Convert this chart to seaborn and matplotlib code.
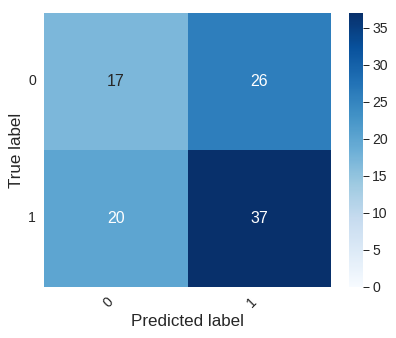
import numpy as np
import pandas as pd
import matplotlib
matplotlib.use("Agg")
import matplotlib.pyplot as plt
import seaborn as sns

# confusion matrix counts
labels = ['0', '1']
row_true0 = [17, 26]
row_true1 = [20, 37]

cm = pd.DataFrame([row_true0, row_true1], index=labels, columns=labels)

sns.set_style('white')
plt.rcParams['font.family'] = ['Liberation Sans', 'DejaVu Sans']
plt.rcParams['text.color'] = '#262626'
plt.rcParams['axes.labelcolor'] = '#262626'
plt.rcParams['xtick.color'] = '#262626'
plt.rcParams['ytick.color'] = '#262626'

fig = plt.figure(figsize=(396 / 72, 338 / 72), dpi=72)
ax = fig.add_axes([0.111, 0.151, 0.725, 0.811])
cax = fig.add_axes([0.881, 0.151, 0.036, 0.811])

sns.heatmap(cm, annot=True, fmt='d', cmap='Blues', vmin=0, ax=ax, cbar_ax=cax,
            annot_kws={'size': 16})

ax.set_xticklabels(ax.get_xticklabels(), rotation=45, ha='right', fontsize=14)
ax.set_yticklabels(ax.get_yticklabels(), rotation=0, fontsize=14)
ax.tick_params(length=0, pad=8)
ax.set_xlabel('Predicted label', fontsize=17)
ax.set_ylabel('True label', fontsize=17)

cax.tick_params(labelsize=14, length=6, width=1, color='#262626', pad=3)
cax.yaxis.set_ticks(np.arange(0, 40, 5))
cbar = ax.collections[0].colorbar
cbar.outline.set_visible(False)

fig.savefig('out.png', dpi=72)
